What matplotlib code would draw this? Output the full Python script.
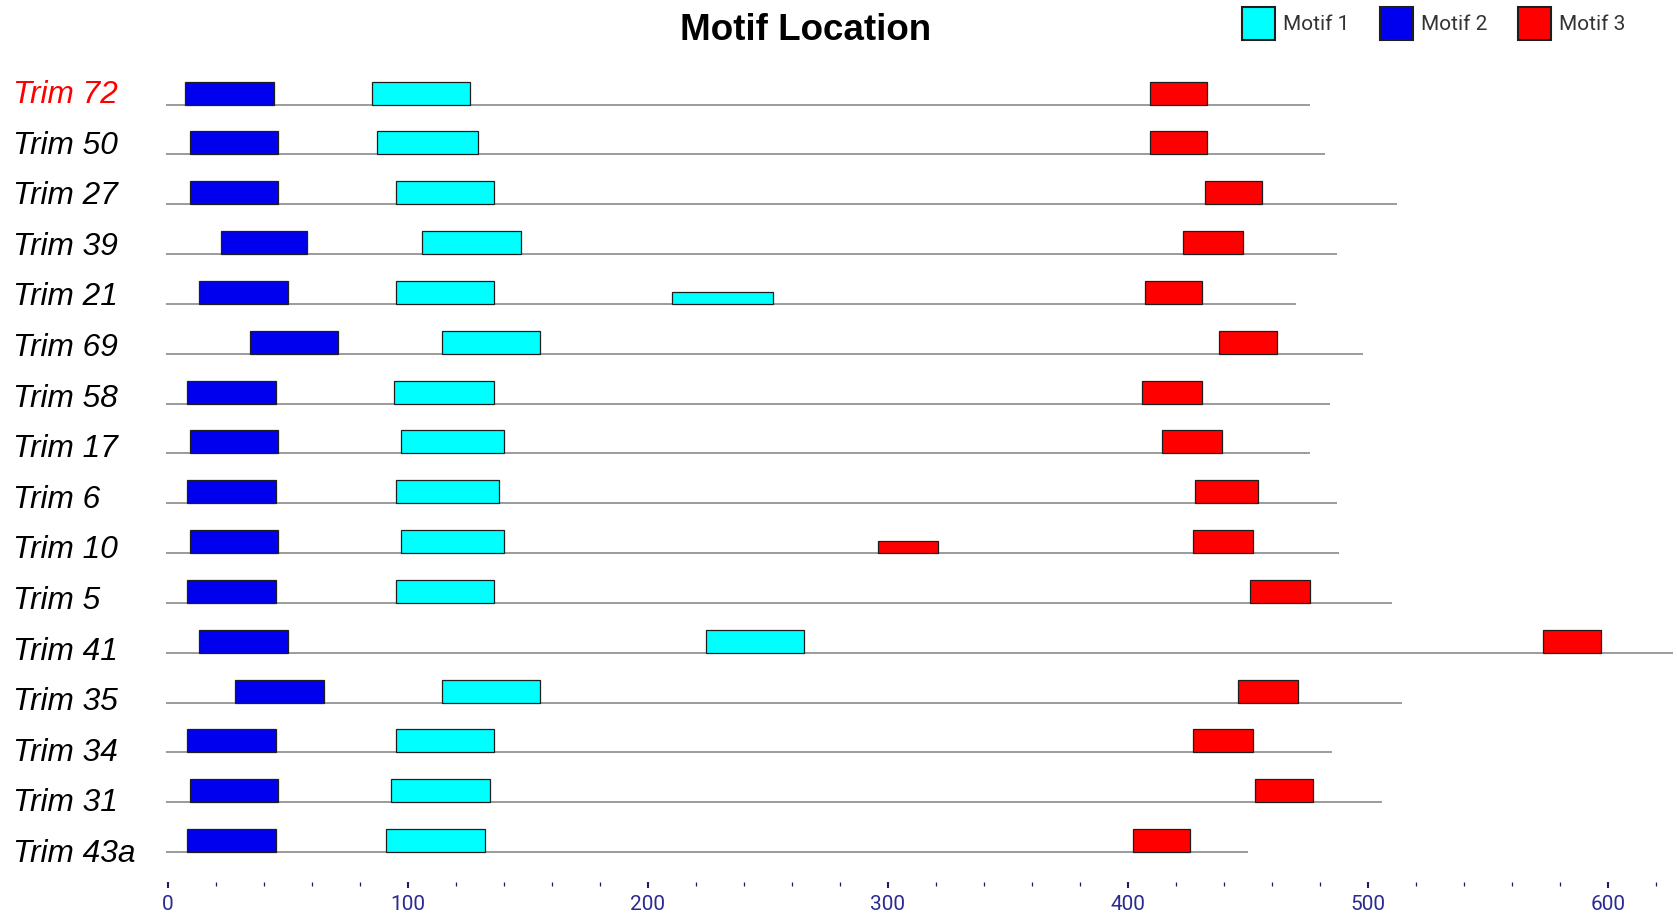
import matplotlib
matplotlib.use("Agg")
import matplotlib.pyplot as plt
import matplotlib.transforms as mtransforms
from matplotlib.patches import Rectangle

# sequences, top to bottom
names = ["Trim 72", "Trim 50", "Trim 27", "Trim 39", "Trim 21", "Trim 69",
         "Trim 58", "Trim 17", "Trim 6", "Trim 10", "Trim 5", "Trim 41",
         "Trim 35", "Trim 34", "Trim 31", "Trim 43a"]
seq_len = [476, 482, 512, 487, 470, 498, 484, 476, 487, 488, 510, 627,
           514, 485, 506, 450]

# motif positions (start, end) for each sequence
motif1_start = [85, 87, 95, 106, 95, 114, 94, 97, 95, 97, 95, 224, 114, 95, 93, 91]
motif1_end = [126, 129, 136, 147, 136, 155, 136, 140, 138, 140, 136, 265, 155, 136, 134, 132]
motif2_start = [7, 9, 9, 22, 13, 34, 8, 9, 8, 9, 8, 13, 28, 8, 9, 8]
motif2_end = [44, 46, 46, 58, 50, 71, 45, 46, 45, 46, 45, 50, 65, 45, 46, 45]
motif3_start = [409, 409, 432, 423, 407, 438, 406, 414, 428, 427, 451, 573, 446, 427, 453, 402]
motif3_end = [433, 433, 456, 448, 431, 462, 431, 439, 454, 452, 476, 597, 471, 452, 477, 426]

# weaker hits (row index, start, end)
weak_motif1 = [(4, 210, 252)]
weak_motif3 = [(9, 296, 321)]

motif_names = ["Motif 1", "Motif 2", "Motif 3"]
colors = ["#00ffff", "#0000ee", "#ff0000"]

W, H = 1677, 918
fig = plt.figure(figsize=(W / 100, H / 100), dpi=100)
ax = fig.add_axes([167.9 / W, 36 / H, (W - 167.9) / W, 827.3 / H])

n = len(names)
rows = list(range(n))
h_full = 0.46
h_weak = 0.24

# backbone lines
for i in rows:
    ax.plot([-1, seq_len[i]], [i, i], color="#8a8a8a", lw=1.2, zorder=1,
            solid_capstyle="butt", clip_on=False)

def boxes(starts, ends, color, h):
    ys = [r - h / 2 for r in rows]
    widths = [e - s for s, e in zip(starts, ends)]
    ax.barh(ys, widths, left=starts, height=h, color=color,
            edgecolor="#1e1e1e", linewidth=0.9, zorder=3)

boxes(motif1_start, motif1_end, colors[0], h_full)
boxes(motif2_start, motif2_end, colors[1], h_full)
boxes(motif3_start, motif3_end, colors[2], h_full)

for hits, color in ((weak_motif1, colors[0]), (weak_motif3, colors[2])):
    for r, s, e in hits:
        ax.barh(r - h_weak / 2, e - s, left=s, height=h_weak, color=color,
                edgecolor="#1e1e1e", linewidth=0.9, zorder=3)

ax.set_xlim(0, (W - 167.9) / 2.4)
ax.set_ylim(15.6, -1.0)

for s in ax.spines.values():
    s.set_visible(False)
ax.set_yticks([])
ax.set_xticks(range(0, 700, 100))
ax.set_xticks(range(0, 640, 20), minor=True)
ax.tick_params(axis="x", which="major", direction="out", length=4.5, width=1.5,
               color="#1c1c6e", pad=5, labelsize=15, labelcolor="#2a2a90")
ax.tick_params(axis="x", which="minor", direction="out", length=2.8, width=0.9,
               color="#1c1c6e")
for lab in ax.get_xticklabels():
    lab.set_family("Roboto")

# row labels
trans = mtransforms.blended_transform_factory(fig.transFigure, ax.transData)
for i, name in enumerate(names):
    ax.text(13 / W, -0.19 + i * 1.0152, name, transform=trans,
            ha="left", va="center", fontsize=22.8, style="italic",
            family="Liberation Sans",
            color="#ff0000" if i == 0 else "#000000")

fig.text(806 / W, 1 - 30 / H, "Motif Location", ha="center", va="center",
         fontsize=26.5, fontweight="bold", family="Liberation Sans")

# legend
box_x = [1242, 1380, 1518]
for x, c, label in zip(box_x, colors, motif_names):
    fig.add_artist(Rectangle((x / W, 1 - 40 / H), 33 / W, 33 / H,
                             transform=fig.transFigure, facecolor=c,
                             edgecolor="#1e1e1e", linewidth=1.5))
    fig.text((x + 41) / W, 1 - 24 / H, label, ha="left", va="center",
             fontsize=15, family="Roboto", color="#333333")

fig.savefig("out.png", dpi=100)
